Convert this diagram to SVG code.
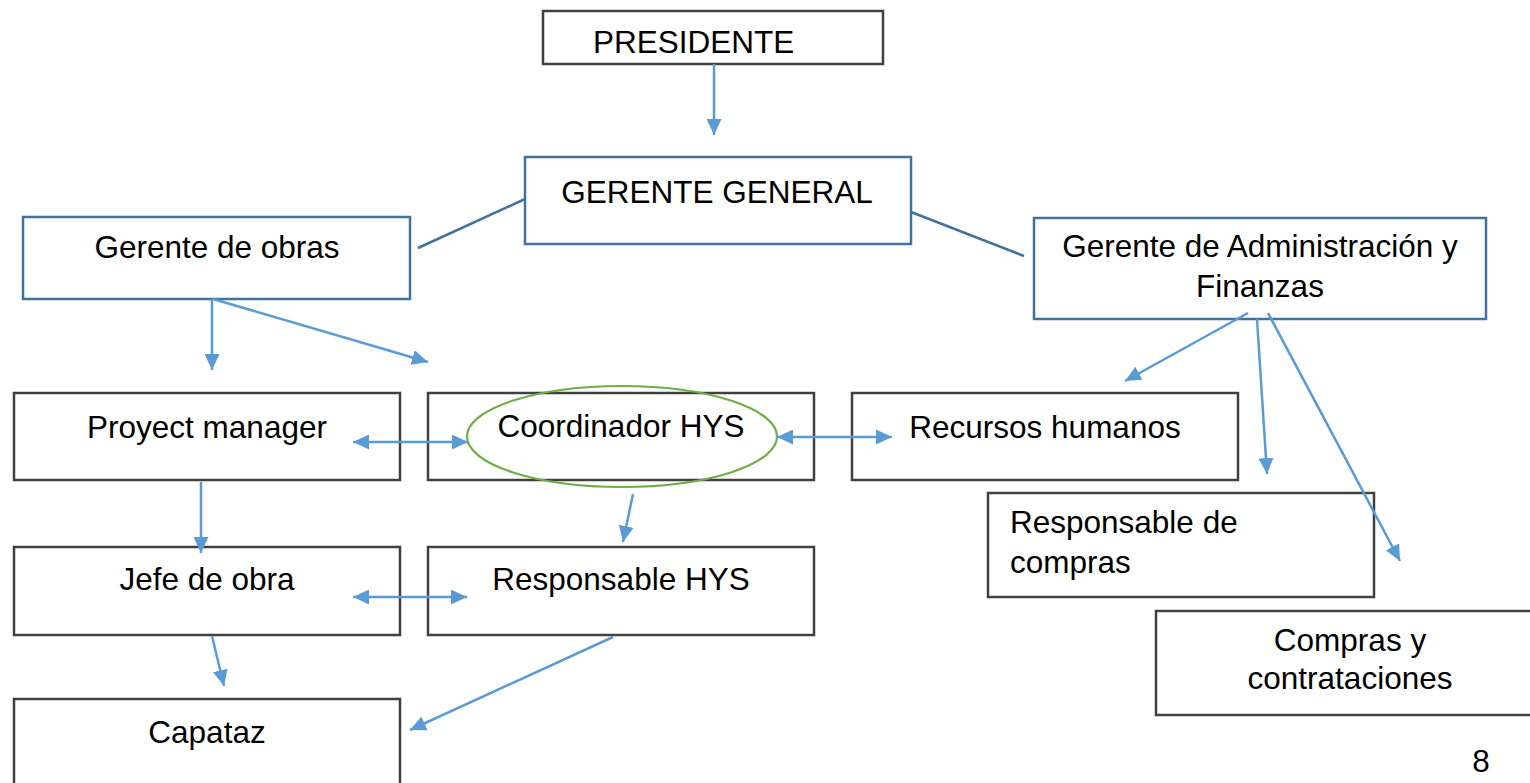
<svg xmlns="http://www.w3.org/2000/svg" width="1530" height="783" viewBox="0 0 1530 783">
<style>
.box{fill:#fff;stroke:#404040;stroke-width:2.5}
.bbox{fill:#fff;stroke:#41719C;stroke-width:2.5}
.t{font-family:"Liberation Sans",Arial,sans-serif;font-size:31.5px;fill:#000}
.c{text-anchor:middle}
.conn{stroke:#5B9BD5;stroke-width:2.5;fill:none}
.plain{stroke:#41719C;stroke-width:2.5;fill:none}
</style>
<defs>
<marker id="ah" viewBox="0 0 16 15" refX="16" refY="7.5" markerWidth="16" markerHeight="15" markerUnits="userSpaceOnUse" orient="auto-start-reverse">
<path d="M0,0 L16,7.5 L0,15 z" fill="#5B9BD5"/>
</marker>
</defs>
<rect width="1530" height="783" fill="#fff"/>
<g id="presidente"><rect class="box" x="543" y="11" width="340" height="53"/><text class="t" x="593" y="53">PRESIDENTE</text></g>
<g id="gerente-general"><rect class="bbox" x="525" y="157" width="386" height="87"/><text class="t c" x="717" y="203">GERENTE GENERAL</text></g>
<g id="gerente-obras"><rect class="bbox" x="23" y="217" width="387" height="82"/><text class="t c" x="217" y="258">Gerente de obras</text></g>
<g id="gerente-admin"><rect class="bbox" x="1034" y="218" width="452" height="101"/><text class="t c" x="1260" y="257">Gerente de Administración y</text><text class="t c" x="1260" y="297">Finanzas</text></g>
<g id="proyect-manager"><rect class="box" x="14" y="393" width="386" height="87"/><text class="t c" x="207" y="438">Proyect manager</text></g>
<g id="coordinador"><rect class="box" x="428" y="393" width="386" height="87"/><ellipse cx="622" cy="436.5" rx="155" ry="50.5" fill="none" stroke="#70AD47" stroke-width="2.2"/><text class="t c" x="621" y="437">Coordinador HYS</text></g>
<g id="recursos"><rect class="box" x="852" y="393" width="386" height="87"/><text class="t c" x="1045" y="438">Recursos humanos</text></g>
<g id="resp-compras"><rect class="box" x="988" y="493" width="386" height="104"/><text class="t" x="1010" y="533">Responsable de</text><text class="t" x="1010" y="573">compras</text></g>
<g id="compras"><rect class="box" x="1156" y="611" width="400" height="104"/><text class="t c" x="1350" y="651">Compras y</text><text class="t c" x="1350" y="689">contrataciones</text></g>
<g id="jefe"><rect class="box" x="14" y="547" width="386" height="88"/><text class="t c" x="207" y="590">Jefe de obra</text></g>
<g id="resp-hys"><rect class="box" x="428" y="547" width="386" height="88"/><text class="t c" x="621" y="590">Responsable HYS</text></g>
<g id="capataz"><rect class="box" x="14" y="699" width="386" height="100"/><text class="t c" x="207" y="743">Capataz</text></g>
<g id="page"><text class="t c" x="1481" y="772">8</text></g>
<g id="connectors">
<line class="plain" x1="418" y1="248" x2="525" y2="199"/>
<line class="plain" x1="911" y1="212" x2="1024" y2="256"/>
<line class="conn" x1="714" y1="64" x2="714" y2="135" marker-end="url(#ah)"/>
<line class="conn" x1="212" y1="299" x2="212" y2="370" marker-end="url(#ah)"/>
<line class="conn" x1="213" y1="299" x2="428" y2="362" marker-end="url(#ah)"/>
<line class="conn" x1="353" y1="442" x2="468" y2="442" marker-start="url(#ah)" marker-end="url(#ah)"/>
<line class="conn" x1="777" y1="437" x2="892" y2="437" marker-start="url(#ah)" marker-end="url(#ah)"/>
<line class="conn" x1="633" y1="494" x2="623" y2="542" marker-end="url(#ah)"/>
<line class="conn" x1="201" y1="482" x2="201" y2="553" marker-end="url(#ah)"/>
<line class="conn" x1="353" y1="597" x2="467" y2="597" marker-start="url(#ah)" marker-end="url(#ah)"/>
<line class="conn" x1="212" y1="636" x2="224" y2="686" marker-end="url(#ah)"/>
<line class="conn" x1="613" y1="637" x2="410" y2="730" marker-end="url(#ah)"/>
<line class="conn" x1="1248" y1="313" x2="1125" y2="381" marker-end="url(#ah)"/>
<line class="conn" x1="1257" y1="319" x2="1267" y2="474" marker-end="url(#ah)"/>
<line class="conn" x1="1268" y1="313" x2="1400" y2="561" marker-end="url(#ah)"/>
</g>
</svg>
